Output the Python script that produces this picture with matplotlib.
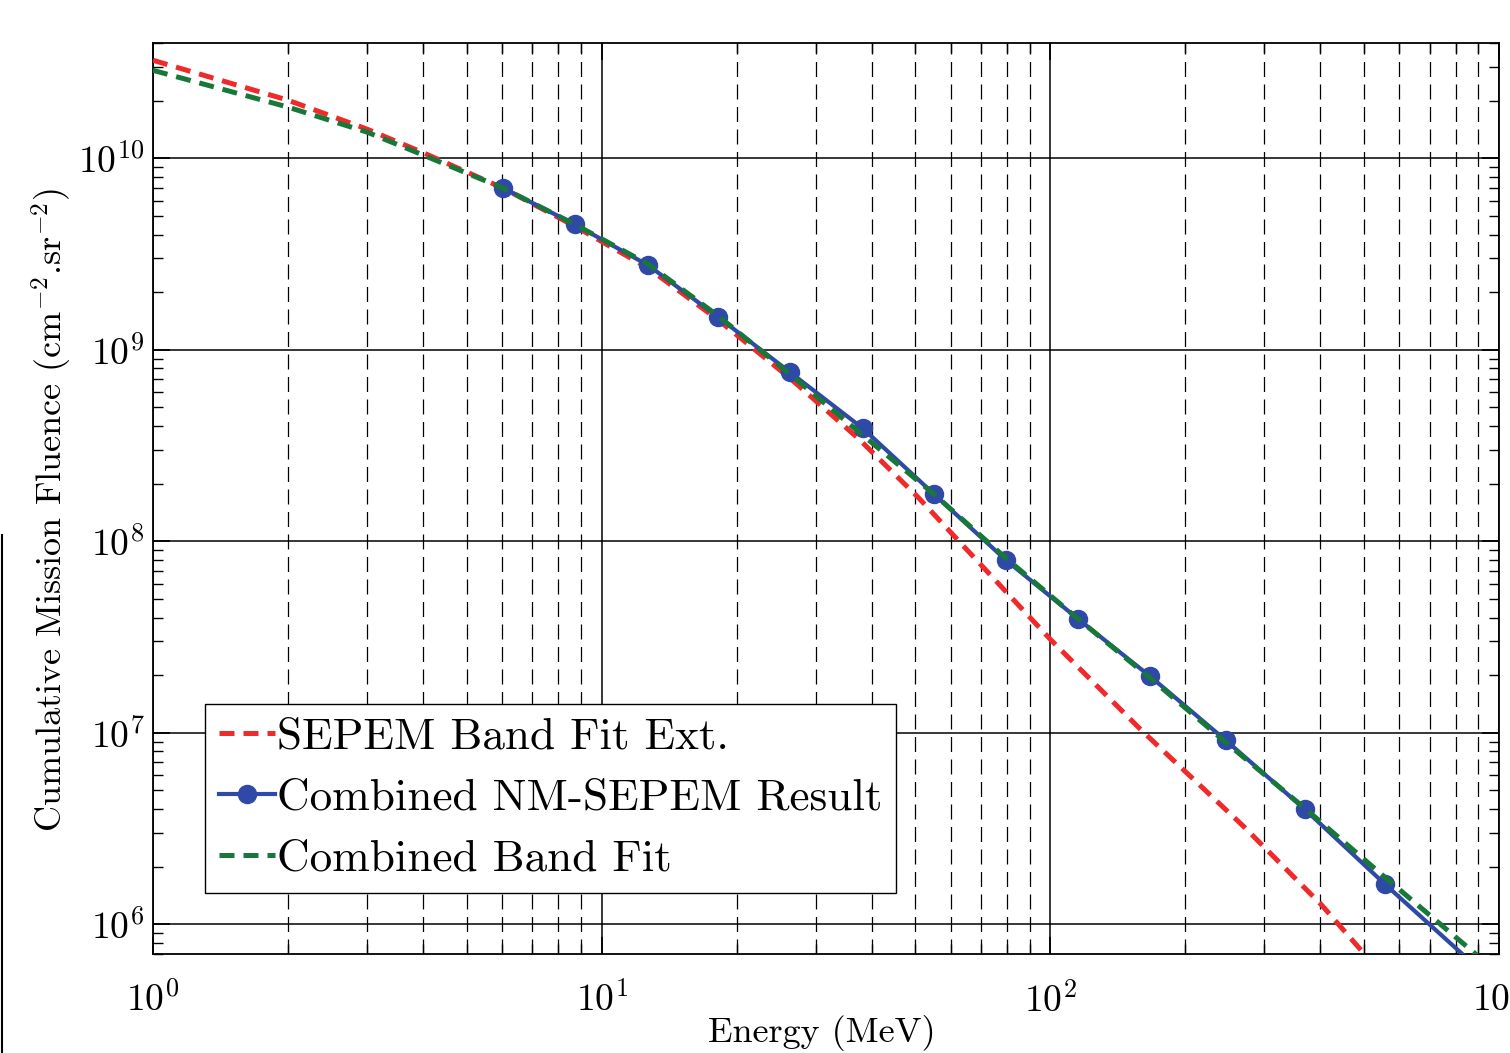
import math
import matplotlib
matplotlib.use('Agg')
import matplotlib.pyplot as plt
from matplotlib.ticker import LogLocator, FuncFormatter, NullFormatter
from matplotlib.lines import Line2D

plt.rcParams['mathtext.fontset'] = 'cm'
plt.rcParams['font.family'] = ['cmr10', 'DejaVu Serif']
plt.rcParams['axes.unicode_minus'] = False
plt.rcParams['axes.formatter.use_mathtext'] = True

# ---- data (Energy in MeV, cumulative fluence) ----
sepem_E = [1.0, 2.0, 3.0, 4.0, 6.04, 8.71, 12.7, 18.2, 26.3, 37.3, 50.7,
           70.9, 100.5, 159.7, 271, 402.6, 502, 607]
sepem_F = [3.25e10, 2.01e10, 1.42e10, 1.07e10, 6.97e9, 4.42e9, 2.67e9, 1.43e9,
           7.1e8, 3.45e8, 1.70e8, 7.31e7, 3.04e7, 1.03e7, 3.21e6, 1.26e6,
           6.97e5, 4.3e5]

comb_E = [6.04, 8.71, 12.7, 18.2, 26.3, 38.2, 55.1, 79.7, 115.5, 167, 246,
          369, 557, 1000]
comb_F = [6.97e9, 4.52e9, 2.76e9, 1.48e9, 7.63e8, 3.89e8, 1.76e8, 7.96e7,
          3.92e7, 1.97e7, 9.14e6, 3.99e6, 1.62e6, 4.7e5]

fit_E = [1.0, 2.0, 3.0, 4.0, 6.04, 8.71, 12.7, 18.2, 26.3, 38.2, 55.1, 79.7,
         115.5, 167, 246, 369, 557, 883, 1000]
fit_F = [2.88e10, 1.85e10, 1.37e10, 1.04e10, 6.97e9, 4.52e9, 2.80e9, 1.50e9,
         7.45e8, 3.58e8, 1.76e8, 8.15e7, 3.92e7, 1.93e7, 8.92e6, 4.04e6,
         1.76e6, 7.06e5, 5.4e5]

labels = ['SEPEM Band Fit Ext.', 'Combined NM-SEPEM Result', 'Combined Band Fit']

RED = '#f02a2a'
BLUE = '#2e4aa6'
GREEN = '#17783a'

fig = plt.figure(figsize=(15.10, 10.53), dpi=100)
ax = fig.add_axes([153 / 1510, 1 - 954 / 1053, (1499 - 153) / 1510, (954 - 43) / 1053])
ax.set_xscale('log')
ax.set_yscale('log')

ax.plot(sepem_E, sepem_F, color=RED, lw=3.6, dashes=(3, 1.8), label=labels[0], zorder=3)
ax.plot(comb_E, comb_F, color=BLUE, lw=3.0, marker='o', ms=13, label=labels[1], zorder=4)
ax.plot(fit_E, fit_F, color=GREEN, lw=3.6, dashes=(3, 1.8), label=labels[2], zorder=5)

ax.set_xlim(1, 1000)
ax.set_ylim(7e5, 4e10)

ax.xaxis.set_major_locator(LogLocator(base=10, numticks=10))
ax.xaxis.set_minor_locator(LogLocator(base=10, subs=range(2, 10), numticks=20))
ax.yaxis.set_major_locator(LogLocator(base=10, numticks=10))
ax.yaxis.set_minor_locator(LogLocator(base=10, subs=range(2, 10), numticks=20))
fmt = FuncFormatter(lambda v, p: r'$10^{%d}$' % round(math.log10(v)))
ax.xaxis.set_major_formatter(fmt)
ax.yaxis.set_major_formatter(fmt)
ax.xaxis.set_minor_formatter(NullFormatter())
ax.yaxis.set_minor_formatter(NullFormatter())

ax.tick_params(which='both', direction='in', top=True, right=True, labelsize=27)
ax.tick_params(which='major', length=12, width=1.2)
ax.tick_params(which='minor', length=7, width=1.0)
ax.tick_params(axis='x', pad=20)
ax.tick_params(axis='y', pad=6)

ax.grid(which='major', color='k', lw=1.1, ls='-')
ax.xaxis.grid(which='minor', color='k', lw=0.9, ls=(0, (12, 6)))

for s in ax.spines.values():
    s.set_linewidth(1.3)

ax.set_xlabel('Energy (MeV)', fontsize=26)
ax.xaxis.set_label_coords((822 - 153) / 1346, -(1033 - 954) / 911)
ax.xaxis.label.set_va('center')
ax.set_ylabel(r'Cumulative Mission Fluence (cm$^{-2}$.sr$^{-2}$)', fontsize=26)
ax.yaxis.set_label_coords(-(153 - 52) / 1346, (954 - 510) / 911)
ax.yaxis.label.set_va('center')

leg = ax.legend(loc='lower left', bbox_to_anchor=((205 - 153) / 1346, (954 - 893) / 911),
                borderaxespad=0, fontsize=32.5, handlelength=1.25, handletextpad=0.05,
                fancybox=False, framealpha=1, edgecolor='k', borderpad=0.3,
                labelspacing=0.45)
leg.get_frame().set_linewidth(1.0)

fig.add_artist(Line2D([0.0012, 0.0012], [0, 1 - 535 / 1053], transform=fig.transFigure,
                      color='k', lw=1.5))

fig.savefig('out.png', dpi=100)
